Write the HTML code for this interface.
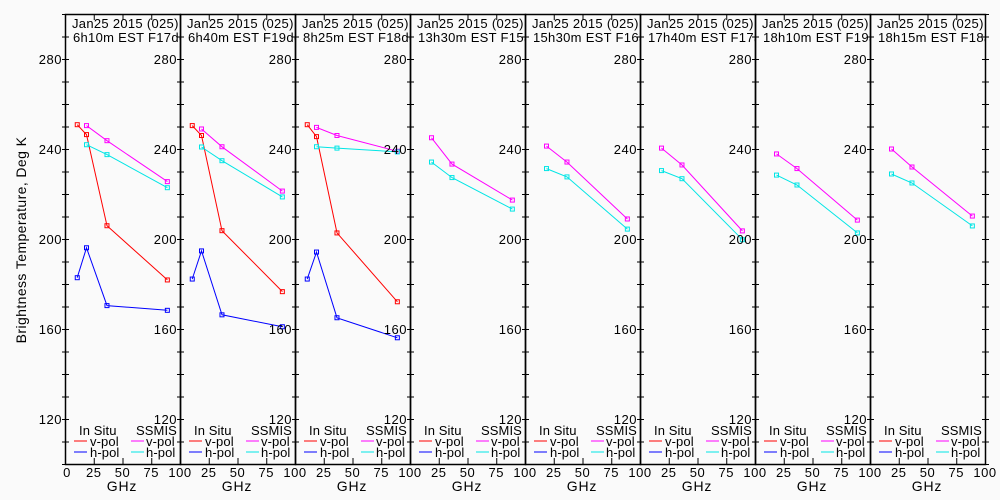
<!DOCTYPE html>
<html><head><meta charset="utf-8"><style>
html,body{margin:0;padding:0;background:#fafafa;}
svg{display:block;font-family:"Liberation Sans",sans-serif;}
</style></head><body>
<svg id="chart" width="1000" height="500" viewBox="0 0 1000 500" xmlns="http://www.w3.org/2000/svg">
<rect x="0" y="0" width="1000" height="500" fill="#fafafa"/>
<text x="0" y="0" transform="translate(26,240) rotate(-90)" text-anchor="middle" font-size="14" letter-spacing="0.4" fill="#000">Brightness Temperature, Deg K</text>
</svg>
<script>
const titles1 = ["Jan25 2015 (025)","Jan25 2015 (025)","Jan25 2015 (025)","Jan25 2015 (025)","Jan25 2015 (025)","Jan25 2015 (025)","Jan25 2015 (025)","Jan25 2015 (025)"];
const titles2 = ["6h10m EST F17des","6h40m EST F19des","8h25m EST F18des","13h30m EST F15asc","15h30m EST F16asc","17h40m EST F17asc","18h10m EST F19asc","18h15m EST F18asc"];
const insituFreq = [10.65, 18.7, 36.5, 89];
const ssmisFreq = [18.7, 36.5, 89];
const insituV = [[250.8,246.4,205.9,181.8],[250.4,246,203.7,176.6],[250.8,245.5,202.7,172.1],null,null,null,null,null];
const insituH = [[182.8,196.1,170.4,168.3],[182.2,194.7,166.3,161],[182.2,194.2,165,156.1],null,null,null,null,null];
const ssmisV = [[250.4,243.7,225.5],[248.9,241,221.3],[249.6,246,239],[245,233.3,217.3],[241.3,234.2,208.9],[240.4,232.9,203.6],[237.8,231.3,208.4],[240,232,210.2]];
const ssmisH = [[241.9,237.5,222.8],[240.9,234.8,218.7],[241,240.4,238.7],[234.2,227.3,213.3],[231.3,227.6,204.4],[230.4,226.8,199.7],[228.4,224,202.7],[228.9,224.9,205.8]];
const yTicks = [120,160,200,240,280];
const xTicks = [0,25,50,75,100];

const NS="http://www.w3.org/2000/svg";
const svg=document.getElementById('chart');
const PW=115, X0=65, YT=14, YB=464;
function mk(tag,attrs,parent){const e=document.createElementNS(NS,tag);for(const k in attrs)e.setAttribute(k,attrs[k]);(parent||svg).appendChild(e);return e;}
function sx(p,v){return X0+p*PW+v/100*PW;}
function sy(v){return YB-(v-100)*(YB-YT)/200;}

for(let p=0;p<8;p++){
  const g=mk('g',{});
  
  
  const cid='clip'+p;
  const cp=mk('clipPath',{id:cid},g);
  mk('rect',{x:X0+p*PW,y:YT,width:PW,height:YB-YT},cp);
  const fr=mk('rect',{x:X0+p*PW+0.5,y:YT+0.5,width:PW,height:YB-YT,fill:'none',stroke:'#000','stroke-width':1.5},g);
  
  
  for(let v=100;v<=300;v+=10){
    const y=sy(v)+0.5;
    mk('line',{x1:X0+p*PW-3,x2:X0+p*PW+4,y1:y,y2:y,stroke:'#000'},g);
    mk('line',{x1:X0+(p+1)*PW-3,x2:X0+(p+1)*PW+4,y1:y,y2:y,stroke:'#000'},g);
  }
  yTicks.forEach(v=>{
    const t=mk('text',{x:X0+p*PW-3,y:sy(v)+5,'text-anchor':'end','font-size':13,'letter-spacing':0.5,fill:'#000'},g);
    t.textContent=v;
    
    
  });
  xTicks.forEach(v=>{
    const x=sx(p,v)+0.5;
    mk('line',{x1:x,x2:x,y1:YB,y2:YB-6,stroke:'#000'},g);
    mk('line',{x1:x,x2:x,y1:YT,y2:YT+6,stroke:'#000'},g);
    if(v===0 && p>0) return;
    const t=mk('text',{x:sx(p,v)+(v===0?2:0),y:YB+13,'text-anchor':'middle','font-size':13,'letter-spacing':0.5,fill:'#000'},g);
    t.textContent=v;
    
    
  });
  const gx=mk('text',{x:X0+p*PW+57,y:491,'text-anchor':'middle','font-size':14,'letter-spacing':0.8,fill:'#000'},g);
  gx.textContent='GHz';
  
  
  const cg=mk('g',{'clip-path':'url(#'+cid+')'},g);
  const t1=mk('text',{x:X0+p*PW+7,y:28,'font-size':13,'letter-spacing':0.3,fill:'#000'},cg);
  t1.textContent=titles1[p];
  
  
  const t2=mk('text',{x:X0+p*PW+8,y:42,'font-size':13,'letter-spacing':0.3,fill:'#000'},cg);
  t2.textContent=titles2[p];
  
  
  const series=[[insituV[p],insituFreq,'#ff0000','insitu-vpol'],[insituH[p],insituFreq,'#0000ff','insitu-hpol'],[ssmisV[p],ssmisFreq,'#ff00ff','ssmis-vpol'],[ssmisH[p],ssmisFreq,'#00e5e5','ssmis-hpol']];
  series.forEach(([vals,fr2,col,nm])=>{
    if(!vals) return;
    const pts=vals.map((v,i)=>sx(p,fr2[i]).toFixed(1)+','+sy(v).toFixed(1)).join(' ');
    const pl=mk('polyline',{points:pts,fill:'none',stroke:col,'stroke-width':1},cg);
    
    
    vals.forEach((v,i)=>{
      const r=mk('rect',{x:sx(p,fr2[i])-2,y:sy(v)-2,width:4,height:4,fill:'none',stroke:col,'stroke-width':1},cg);
      
      
    });
  });
  const lx=X0+p*PW;
  const lg=mk('g',{},g);
  
  
  const items=[['In Situ',lx+14,435],['SSMIS',lx+71,435],['v-pol',lx+25,446],['h-pol',lx+25,457],['v-pol',lx+81,446],['h-pol',lx+81,457]];
  items.forEach(([s,x,y])=>{const t=mk('text',{x:x,y:y,'font-size':13,'letter-spacing':0.1,fill:'#000'},lg);t.textContent=s;});
  [['#ff0000',lx+9,441],['#0000ff',lx+9,452],['#ff00ff',lx+66,441],['#00e5e5',lx+66,452]].forEach(([c,x,y])=>{
    mk('line',{x1:x,x2:x+13,y1:y,y2:y,stroke:c},lg);
  });
}
</script>
</body></html>
